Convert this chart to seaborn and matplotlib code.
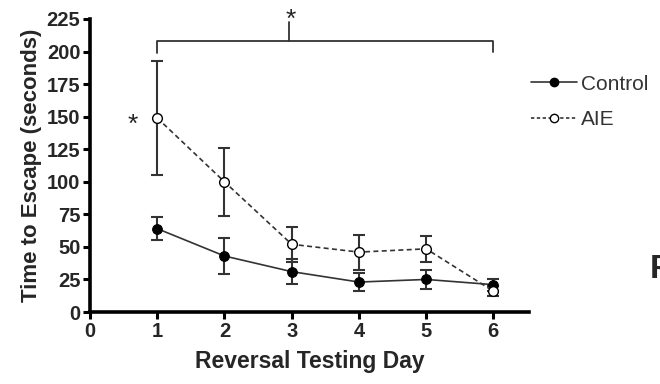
import matplotlib
matplotlib.use("Agg")
import matplotlib.pyplot as plt
import seaborn as sns
import pandas as pd
from matplotlib.lines import Line2D

days = [1, 2, 3, 4, 5, 6]
control_mean = [64, 43, 31, 23, 25, 21]
control_sem = [9, 14, 9.5, 7, 7.5, 4.5]
aie_mean = [149, 100, 52, 46, 48.5, 16]
aie_sem = [44, 26, 13.5, 13.5, 10, 4]
x_ticks = [0, 1, 2, 3, 4, 5, 6]
y_ticks = [0, 25, 50, 75, 100, 125, 150, 175, 200, 225]

sns.set_theme(style="ticks")
plt.rcParams['font.family'] = ['Liberation Sans', 'DejaVu Sans']

df = pd.DataFrame({
    "day": days * 2,
    "time": control_mean + aie_mean,
    "group": ["Control"] * 6 + ["AIE"] * 6,
})

fig = plt.figure(figsize=(6.6, 3.84), dpi=100)
ax = fig.add_axes([90/660, 1 - 312/384, (529-90)/660, (312-19)/384])

line_col = "#333333"
# error bars
ax.errorbar(days, control_mean, yerr=control_sem, fmt='none', ecolor=line_col,
            elinewidth=1.5, capsize=4, capthick=1.5, zorder=2)
ax.errorbar(days, aie_mean, yerr=aie_sem, fmt='none', ecolor=line_col,
            elinewidth=1.5, capsize=4, capthick=1.5, zorder=2)

sns.lineplot(data=df[df.group == "Control"], x="day", y="time", ax=ax,
             color=line_col, lw=1.2, marker='o', markersize=7,
             markerfacecolor='black', markeredgecolor='black', zorder=3, legend=False)
sns.lineplot(data=df[df.group == "AIE"], x="day", y="time", ax=ax,
             color=line_col, lw=1.2, linestyle=(0, (3, 2)), marker='o', markersize=7,
             markerfacecolor='white', markeredgecolor='black', markeredgewidth=1.0,
             zorder=4, legend=False)

ax.set_xlim(0, 6.53)
ax.set_ylim(0, 225)
ax.set_xticks(x_ticks)
ax.set_yticks(y_ticks)
for s in ['top', 'right']:
    ax.spines[s].set_visible(False)
for s in ['left', 'bottom']:
    ax.spines[s].set_linewidth(2.6)
    ax.spines[s].set_color('black')
ax.tick_params(axis='both', length=5, width=2.2, color='black', pad=2,
               labelsize=14.5)
for lab in ax.get_xticklabels() + ax.get_yticklabels():
    lab.set_fontweight('bold')
ax.set_xlabel("Reversal Testing Day", fontsize=16.5, fontweight='bold', labelpad=7)
ax.set_ylabel("Time to Escape (seconds)", fontsize=16, fontweight='bold', labelpad=3)

# significance bracket
bk = dict(color=line_col, lw=1.3, clip_on=False)
ax.plot([1, 1, 6, 6], [199, 208, 208, 199.5], **bk)
ax.plot([2.96, 2.96], [208, 223], **bk)
ax.text(2.98, 224, "*", ha='center', va='center', fontsize=19, clip_on=False)
ax.text(0.64, 144, "*", ha='center', va='center', fontsize=19)

handles = [
    Line2D([], [], color=line_col, lw=1.2, marker='o', markersize=6,
           markerfacecolor='black', markeredgecolor='black'),
    Line2D([], [], color=line_col, lw=1.2, linestyle=(0, (2, 1.5)), marker='o', markersize=6,
           markerfacecolor='white', markeredgecolor='black'),
]
fig.legend(handles, ["Control", "AIE"], loc='upper left',
           bbox_to_anchor=(512/660, 1 - 56/384), frameon=False, fontsize=15,
           handlelength=2.2, handletextpad=0.2, labelspacing=0.8,
           labelcolor='#333333')

fig.text(650/660, 1 - 270/384, "F", fontsize=24, fontweight='bold',
         ha='left', va='center')

fig.savefig("out.png", dpi=100)
